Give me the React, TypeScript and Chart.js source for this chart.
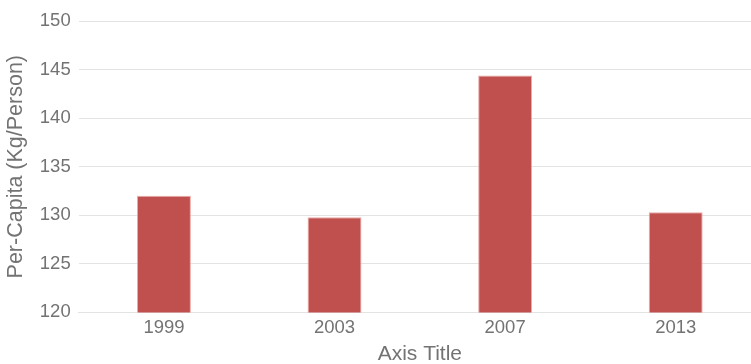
import React, { useEffect, useRef } from "react";
import { Chart, registerables } from "chart.js";

Chart.register(...registerables);

// Per-capita consumption by survey year
const years = ["1999", "2003", "2007", "2013"];
const perCapita = [132.0, 129.8, 144.4, 130.3];

const yMin = 120;
const yMax = 150;
const yStep = 5;

const xAxisTitle = "Axis Title";
const yAxisTitle = "Per-Capita (Kg/Person)";

const barColor = "#c0504d";
const textColor = "#737373";
const gridColor = "#e3e3e3";
const fontFamily = "'Liberation Sans', Arial, Helvetica, sans-serif";

export default function App() {
  const canvasRef = useRef<HTMLCanvasElement | null>(null);

  useEffect(() => {
    const canvas = canvasRef.current;
    if (!canvas) return;
    const chart = new Chart(canvas, {
      type: "bar",
      data: {
        labels: years,
        datasets: [
          {
            data: perCapita,
            backgroundColor: barColor,
            borderColor: "rgba(232, 160, 158, 0.9)",
            borderWidth: 1,
            categoryPercentage: 1,
            barPercentage: 0.316,
          },
        ],
      },
      options: {
        responsive: false,
        animation: false,
        devicePixelRatio: 1,
        layout: { padding: { top: 21, right: 0, bottom: 0, left: 3 } },
        plugins: {
          legend: { display: false },
          tooltip: { enabled: false },
        },
        scales: {
          x: {
            grid: { display: false, drawTicks: false },
            border: { display: true, color: gridColor, width: 1 },
            ticks: {
              color: textColor,
              font: { family: fontFamily, size: 18.5 },
              padding: 4,
            },
            title: {
              display: true,
              text: xAxisTitle,
              color: textColor,
              font: { family: fontFamily, size: 21, lineHeight: 0.9 },
              padding: { top: 2.5, bottom: 0 },
            },
          },
          y: {
            min: yMin,
            max: yMax,
            ticks: {
              stepSize: yStep,
              color: textColor,
              font: { family: fontFamily, size: 18.5 },
              padding: 8,
            },
            grid: { color: gridColor, lineWidth: 1, drawTicks: false },
            border: { display: false },
            title: {
              display: true,
              text: yAxisTitle,
              color: textColor,
              font: { family: fontFamily, size: 21.5 },
              padding: { top: 0, bottom: 3 },
            },
          },
        },
      },
    });
    return () => chart.destroy();
  }, []);

  return (
    <div
      style={{
        position: "absolute",
        left: 0,
        top: 0,
        width: 751,
        height: 364,
        overflow: "hidden",
        background: "#fff",
      }}
    >
      <canvas ref={canvasRef} width={761} height={364} style={{ display: "block" }} />
    </div>
  );
}
